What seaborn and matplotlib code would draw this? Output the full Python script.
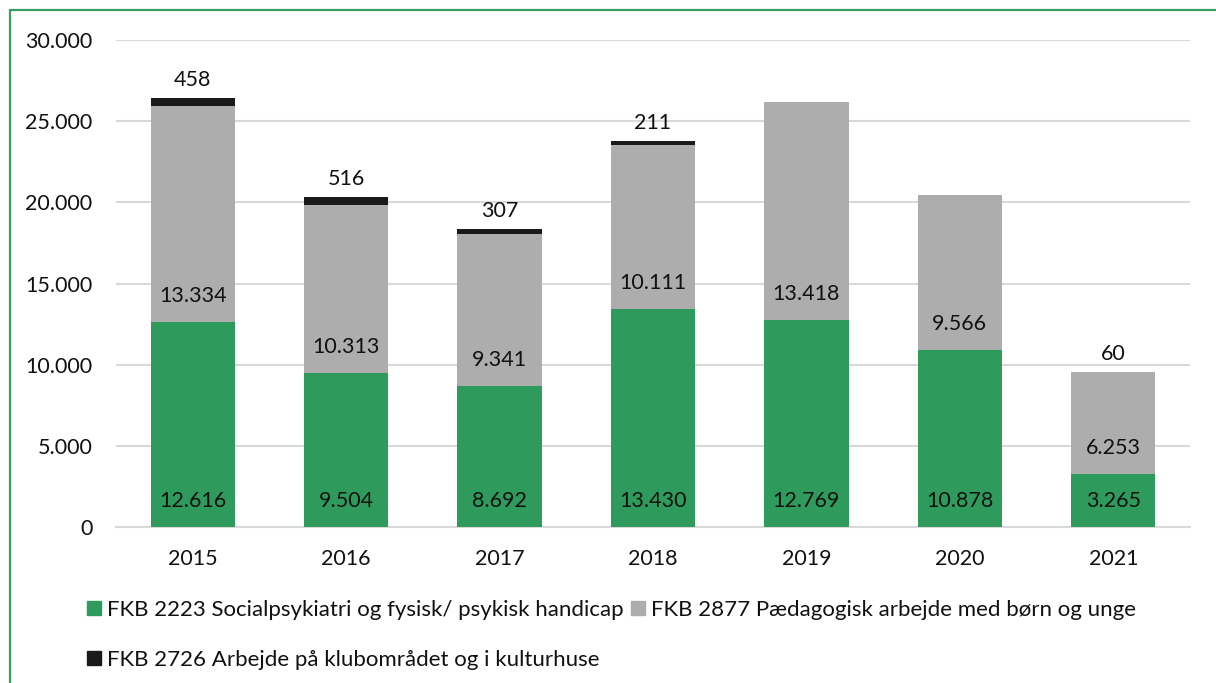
import matplotlib
matplotlib.use("Agg")
import matplotlib.pyplot as plt
from matplotlib.patches import Rectangle, Patch
import seaborn as sns
import pandas as pd
import numpy as np

years = ["2015", "2016", "2017", "2018", "2019", "2020", "2021"]
fkb_2223 = [12616, 9504, 8692, 13430, 12769, 10878, 3265]
fkb_2877 = [13334, 10313, 9341, 10111, 13418, 9566, 6253]
fkb_2726 = [458, 516, 307, 211, 0, 0, 60]
series_names = [
    "FKB 2223 Socialpsykiatri og fysisk/ psykisk handicap",
    "FKB 2877 Pædagogisk arbejde med børn og unge",
    "FKB 2726 Arbejde på klubområdet og i kulturhuse",
]
y_ticks = [0, 5000, 10000, 15000, 20000, 25000, 30000]

GREEN = "#2E9B5C"
GRAY = "#ADADAD"
BLACK = "#1A1A1A"

sns.set_theme(style="white")
plt.rcParams["font.family"] = ["Lato", "DejaVu Sans"]

fs = 15.5
W, H = 1216, 683
fig = plt.figure(figsize=(W / 100, H / 100), dpi=100)
ax = fig.add_axes([116 / W, 1 - 527 / H, (1190 - 116) / W, (527 - 40) / H])

df = pd.DataFrame({
    "year": years,
    "g": fkb_2223,
    "gg": np.array(fkb_2223) + np.array(fkb_2877),
    "tot": np.array(fkb_2223) + np.array(fkb_2877) + np.array(fkb_2726),
})

bw = 0.55
sns.barplot(data=df, x="year", y="tot", color=BLACK, width=bw, saturation=1, ax=ax, zorder=3, linewidth=0)
sns.barplot(data=df, x="year", y="gg", color=GRAY, width=bw, saturation=1, ax=ax, zorder=3, linewidth=0)
sns.barplot(data=df, x="year", y="g", color=GREEN, width=bw, saturation=1, ax=ax, zorder=3, linewidth=0)

ax.set_xlim(-0.5, len(years) - 0.5)
ax.set_ylim(0, 30000)
ax.set_yticks(y_ticks)
ax.set_yticklabels([f"{v:,}".replace(",", ".") for v in y_ticks], fontsize=fs, color="#111111")
ax.set_xticks(range(len(years)))
ax.set_xticklabels(years, fontsize=fs, color="#111111")
ax.tick_params(axis="y", length=0, pad=17)
ax.tick_params(axis="x", length=0, pad=16)
ax.set_xlabel("")
ax.set_ylabel("")
ax.yaxis.grid(True, color="#D9D9D9", linewidth=1.5, zorder=0)
ax.set_axisbelow(True)
for s in ["top", "right", "left"]:
    ax.spines[s].set_visible(False)
ax.spines["bottom"].set_color("#D9D9D9")
ax.spines["bottom"].set_linewidth(1.5)

fmt = lambda v: f"{v:,}".replace(",", ".")
off = 26 * 72 / 100
for i in range(len(years)):
    ax.annotate(fmt(fkb_2223[i]), (i, 0), xytext=(0, off), textcoords="offset points",
                ha="center", va="center", fontsize=fs, color="#111111", zorder=5)
    ax.annotate(fmt(fkb_2877[i]), (i, fkb_2223[i]), xytext=(0, off), textcoords="offset points",
                ha="center", va="center", fontsize=fs, color="#111111", zorder=5)
    if fkb_2726[i] > 0:
        top = fkb_2223[i] + fkb_2877[i] + fkb_2726[i]
        ax.annotate(fmt(fkb_2726[i]), (i, top), xytext=(0, 18 * 72 / 100), textcoords="offset points",
                    ha="center", va="center", fontsize=fs, color="#111111", zorder=5)

handles = [Patch(color=GREEN), Patch(color=BLACK), Patch(color=GRAY)]
labels = [series_names[0], series_names[2], series_names[1]]
fig.legend(handles, labels, ncol=2, loc="upper left",
           bbox_to_anchor=(87 / W, 1 - 600 / H), frameon=False, fontsize=16,
           handlelength=0.62, handleheight=0.62, handletextpad=0.3,
           columnspacing=0.3, labelspacing=1.35, borderaxespad=0, borderpad=0,
           labelcolor="#111111")

fig.add_artist(Rectangle((9.5 / W, -0.05), 1.1, 1.05 - 10 / H, transform=fig.transFigure,
                         fill=False, edgecolor="#3A9E62", linewidth=1.6))

fig.savefig("out.png", dpi=100)
